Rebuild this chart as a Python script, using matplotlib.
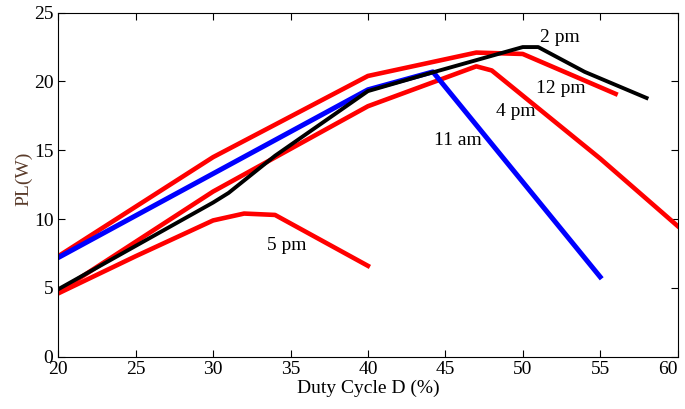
import numpy as np
import matplotlib.pyplot as plt

plt.rcParams['font.family'] = ['Liberation Serif', 'DejaVu Serif']

# duty cycle (%) and load power (W) for each hour
d_11am = [20, 30, 40, 44.2, 55]
p_11am = [7.2, 13.3, 19.4, 20.7, 5.8]

d_12pm = [20, 30, 40, 47, 50, 56]
p_12pm = [7.3, 14.5, 20.4, 22.1, 22.0, 19.1]

d_2pm = [20, 30, 31, 34, 40, 44, 50, 51, 54, 58]
p_2pm = [4.9, 11.2, 11.9, 14.6, 19.3, 20.6, 22.5, 22.5, 20.7, 18.8]

d_4pm = [20, 30, 40, 47, 48, 55, 60]
p_4pm = [4.7, 12.0, 18.2, 21.1, 20.8, 14.4, 9.5]

d_5pm = [20, 25, 30, 32, 34, 40]
p_5pm = [4.6, 7.3, 9.9, 10.4, 10.3, 6.6]

fig = plt.figure(figsize=(6.85, 4.09), dpi=100)
ax = fig.add_axes([0.0851, 0.128, 0.904, 0.841])

ax.plot(d_12pm, p_12pm, color='#ff0000', lw=3.3, solid_joinstyle='round')
ax.plot(d_4pm, p_4pm, color='#ff0000', lw=3.3, solid_joinstyle='round')
ax.plot(d_5pm, p_5pm, color='#ff0000', lw=3.3, solid_joinstyle='round')
ax.plot(d_11am, p_11am, color='#0000ff', lw=3.6, solid_joinstyle='round')
ax.plot(d_2pm, p_2pm, color='black', lw=2.8, solid_joinstyle='round')

labels = [("2 pm", 51.1, 23.2), ("12 pm", 50.85, 19.5), ("4 pm", 48.3, 17.8),
          ("11 am", 44.25, 15.7), ("5 pm", 33.45, 8.05)]
for txt, x, y in labels:
    ax.text(x, y, txt, fontsize=14, va='center', ha='left')

ax.set_xlim(20, 60)
ax.set_ylim(0, 25)
ax.set_xticks(np.arange(20, 61, 5))
ax.set_yticks(np.arange(0, 26, 5))
ax.tick_params(direction='in', top=True, right=True, labelsize=14, length=5)
ax.tick_params(axis='x', pad=3)
# keep the last x tick label inside the figure
ax.get_xticklabels()[-1].set_horizontalalignment('right')

ax.set_xlabel("Duty Cycle D (%)", fontsize=14, labelpad=1)
ax.set_ylabel("PL(W)", fontsize=14, color='#5a3b2a')
ax.yaxis.set_label_coords(-0.042, 0.517)

fig.savefig("out.png", dpi=100)
